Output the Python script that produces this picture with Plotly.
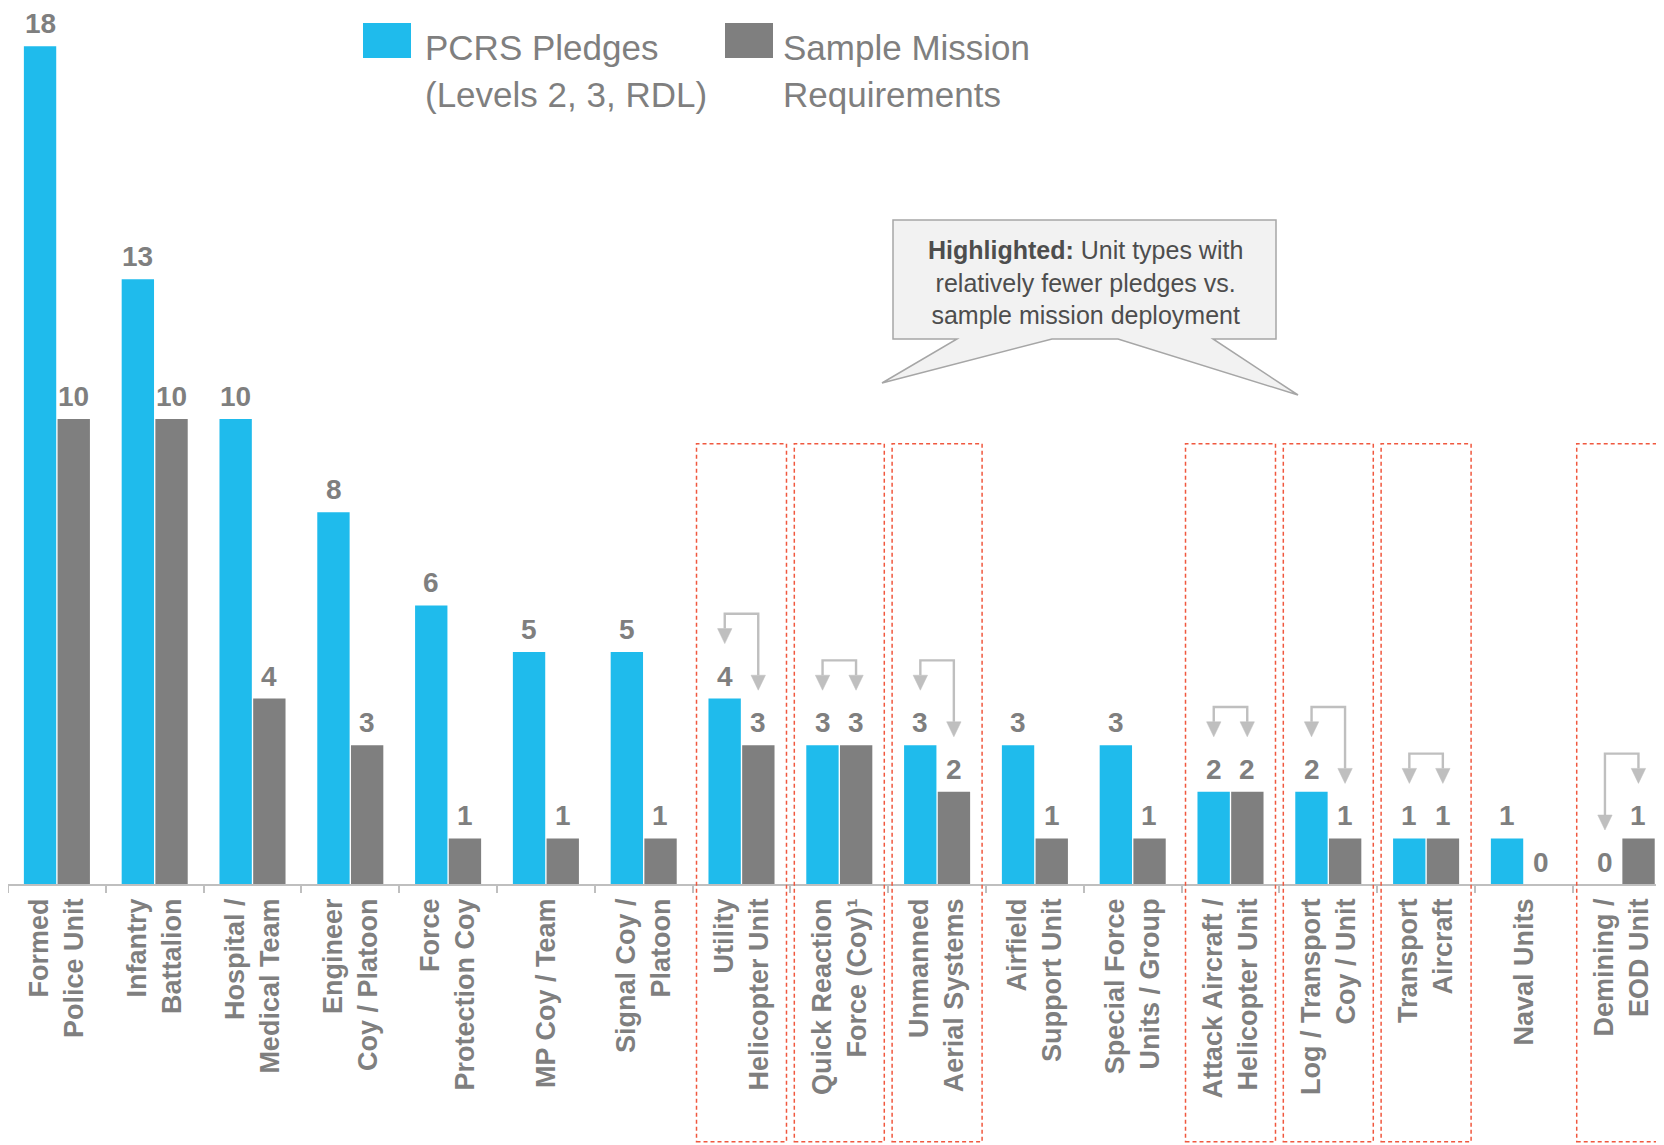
import plotly.graph_objects as go

# ---------------- data ----------------
categories = [
    "Formed<br>Police Unit", "Infantry<br>Battalion", "Hospital /<br>Medical Team",
    "Engineer<br>Coy / Platoon", "Force<br>Protection Coy", "MP Coy / Team",
    "Signal Coy /<br>Platoon", "Utility<br>Helicopter Unit", "Quick Reaction<br>Force (Coy)\u00b9",
    "Unmanned<br>Aerial Systems", "Airfield<br>Support Unit", "Special Force<br>Units / Group",
    "Attack Aircraft /<br>Helicopter Unit", "Log / Transport<br>Coy / Unit", "Transport<br>Aircraft",
    "Naval Units", "Demining /<br>EOD Unit",
]
pledges = [18, 13, 10, 8, 6, 5, 5, 4, 3, 3, 3, 3, 2, 2, 1, 1, 0]
requirements = [10, 10, 4, 3, 1, 1, 1, 3, 3, 2, 1, 1, 2, 1, 1, 0, 1]
highlighted = [
    "Utility<br>Helicopter Unit", "Quick Reaction<br>Force (Coy)\u00b9", "Unmanned<br>Aerial Systems",
    "Attack Aircraft /<br>Helicopter Unit", "Log / Transport<br>Coy / Unit", "Transport<br>Aircraft",
    "Demining /<br>EOD Unit",
]
series_names = ["PCRS Pledges (Levels 2, 3, RDL)", "Sample Mission Requirements"]
legend_lines = [["PCRS Pledges", "(Levels 2, 3, RDL)"], ["Sample Mission", "Requirements"]]
callout_text = ("<b>Highlighted:</b> Unit types with<br>relatively fewer pledges vs.<br>"
                "sample mission deployment")

# ---------------- style / layout constants ----------------
PAGE_OFF = 8                     # default body margin of the html page
FIG_W, FIG_H = 1664 - PAGE_OFF, 1145 - PAGE_OFF
PW, PH = FIG_W, FIG_H
CAT_PX = 97.8          # pixels per category
UNIT_PX = 46.6         # pixels per value unit
BASE_PX = 885 - PAGE_OFF         # baseline position from top of figure
BLUE = "#1FBBEC"
GRAY = "#7F7F7F"
LIGHT = "#BFBFBF"
RED = "#F0583F"
FONT = "Liberation Sans"

x_idx = list(range(len(categories)))
x_range = [-0.5, -0.5 + PW / CAT_PX]
y_range = [-(PH - BASE_PX) / UNIT_PX, BASE_PX / UNIT_PX]
OFF = 16.75 / CAT_PX   # half-slot offset of each bar within the group


def paper(px, py):
    """page pixel -> paper fraction"""
    return (px - PAGE_OFF) / PW, 1 - (py - PAGE_OFF) / PH


fig = go.Figure()
fig.add_trace(go.Bar(x=x_idx, y=pledges, name=series_names[0],
                     marker=dict(color=BLUE, line=dict(width=0)), showlegend=False))
fig.add_trace(go.Bar(x=x_idx, y=requirements, name=series_names[1],
                     marker=dict(color=GRAY, line=dict(width=0)), showlegend=False))

annotations = []
shapes = []

# value labels
for i in x_idx:
    for val, sh in ((pledges[i], -OFF), (requirements[i], OFF)):
        annotations.append(dict(
            x=i + sh, y=val, xref="x", yref="y", text=str(val), showarrow=False,
            yanchor="bottom", xanchor="center", yshift=5,
            font=dict(family=FONT, size=28, color=GRAY, weight="bold"),
        ))

# red dashed highlight boxes + connector arrows
HW = 7.2 / CAT_PX
HH = 15 / UNIT_PX
for name in highlighted:
    i = categories.index(name)
    shapes.append(dict(type="rect", xref="x", yref="y", x0=i - 0.46, x1=i + 0.46,
                       y0=y_range[0] + 0.07, y1=9.47,
                       line=dict(color=RED, width=1.5, dash="4px,3px"), layer="above"))
    b, g = pledges[i], requirements[i]
    top = max(b, g) + 1.82
    tb, tg = b + 1.18, g + 1.18
    xb, xg = i - OFF, i + OFF
    shapes.append(dict(type="path", xref="x", yref="y",
                       path=f"M {xb},{tb + HH} L {xb},{top} L {xg},{top} L {xg},{tg + HH}",
                       line=dict(color=LIGHT, width=2.4)))
    for xc, tip in ((xb, tb), (xg, tg)):
        shapes.append(dict(type="path", xref="x", yref="y",
                           path=f"M {xc - HW},{tip + HH} L {xc + HW},{tip + HH} L {xc},{tip} Z",
                           fillcolor=LIGHT, line=dict(color=LIGHT, width=0.5)))

# callout bubble
pts = [(893, 220), (1276, 220), (1276, 339), (1213, 339), (1298, 395), (1118, 339),
       (1052, 339), (882, 383), (957, 339), (893, 339)]
path = "M " + " L ".join(f"{paper(a, c)[0]},{paper(a, c)[1]}" for a, c in pts) + " Z"
shapes.append(dict(type="path", xref="paper", yref="paper", path=path,
                   fillcolor="#F2F2F2", line=dict(color="#A6A6A6", width=1.5)))
cx, cy = paper(1085, 282)
annotations.append(dict(x=cx, y=cy, xref="paper", yref="paper", text=callout_text, showarrow=False,
                        align="center", xanchor="center", yanchor="middle",
                        font=dict(family=FONT, size=25, color="#4D4D4D")))

# legend (manual)
for (sx0, sx1, tx), color, lines in (((363, 411, 423), BLUE, legend_lines[0]),
                                      ((725, 773, 781), GRAY, legend_lines[1])):
    x0, y0 = paper(sx0, 23)
    x1, y1 = paper(sx1, 58)
    shapes.append(dict(type="rect", xref="paper", yref="paper", x0=x0, x1=x1, y0=y1, y1=y0,
                       fillcolor=color, line=dict(width=0)))
    for k, line in enumerate(lines):
        ax_, ay_ = paper(tx, 47 + 48 * k)
        annotations.append(dict(x=ax_, y=ay_, xref="paper", yref="paper", text=line, showarrow=False,
                                xanchor="left", yanchor="middle",
                                font=dict(family=FONT, size=35, color=GRAY)))

fig.update_layout(
    width=FIG_W, height=FIG_H,
    margin=dict(l=0, r=0, t=0, b=0),
    paper_bgcolor="white", plot_bgcolor="white",
    barmode="group", bargap=0.311, bargroupgap=0.04,
    showlegend=False,
    annotations=annotations, shapes=shapes,
    xaxis=dict(
        range=x_range, tickmode="array", tickvals=x_idx, ticktext=categories,
        tickangle=-90, ticks="", showgrid=False, zeroline=False,
        showline=True, linecolor=LIGHT, linewidth=1.5,
        anchor="free", position=(PH - BASE_PX) / PH,
        ticklabelstandoff=2,
        tickfont=dict(family=FONT, size=27, color=GRAY, weight="bold"),
        minor=dict(tickmode="array", tickvals=[i - 0.5 for i in range(len(categories) + 1)],
                   ticks="outside", ticklen=7, tickcolor=LIGHT, tickwidth=1.5, showgrid=False),
    ),
    yaxis=dict(range=y_range, visible=False, showgrid=False, zeroline=False),
)

fig.write_html("out.html")
